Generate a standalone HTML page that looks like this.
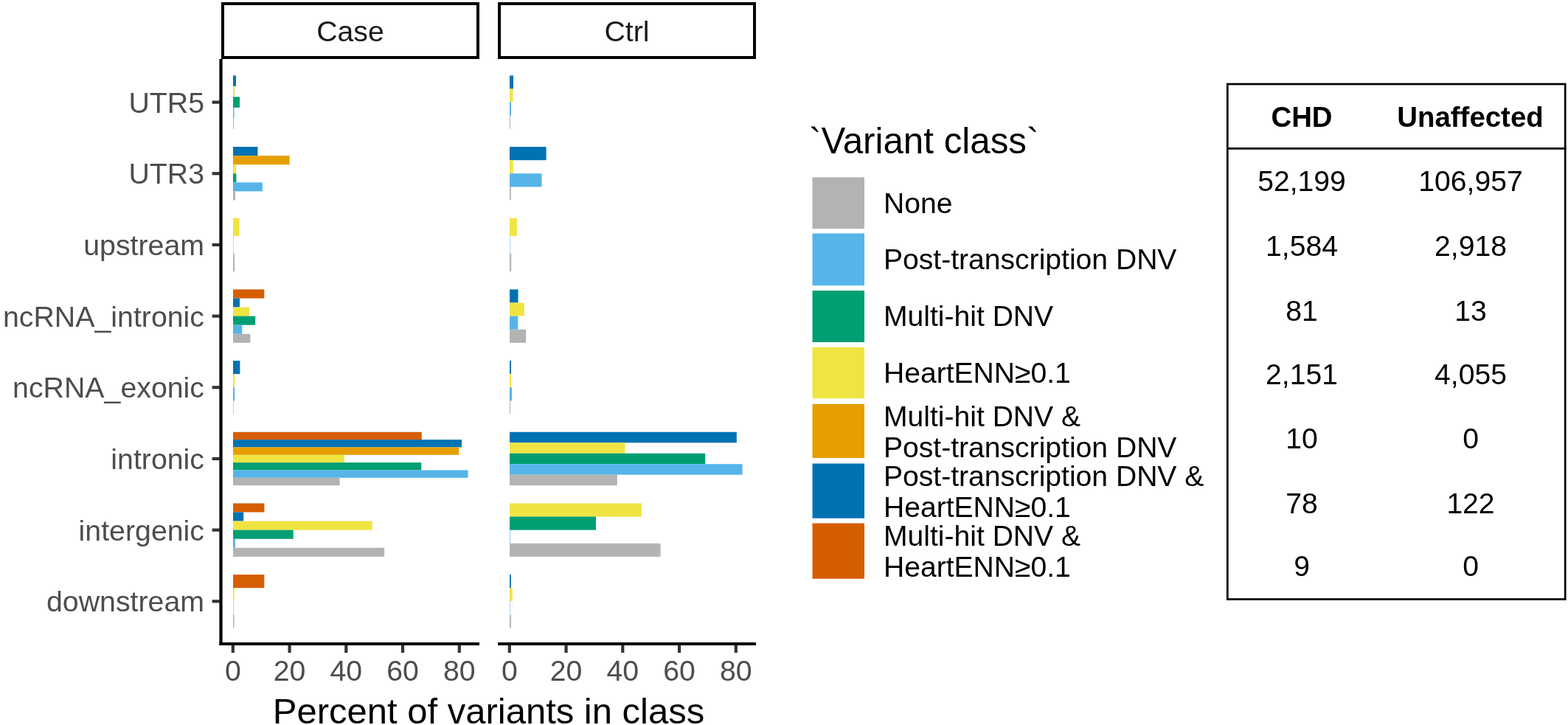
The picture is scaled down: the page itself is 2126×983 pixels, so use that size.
<!DOCTYPE html><html><head><meta charset="utf-8"><title>Variant class plot</title><style>html,body{margin:0;padding:0;background:#fff;}svg{display:block;}text{font-family:"Liberation Sans",Arial,sans-serif;}</style></head><body>
<svg width="2126" height="983" viewBox="0 0 2126 983">
<rect x="0" y="0" width="2126" height="983" fill="#fff"/>
<rect x="316.00" y="102.40" width="4.00" height="14.48" fill="#0072B2"/>
<rect x="316.00" y="116.88" width="2.00" height="14.48" fill="#F0E442"/>
<rect x="316.00" y="131.36" width="9.00" height="14.48" fill="#009E73"/>
<rect x="316.00" y="145.84" width="1.50" height="14.48" fill="#56B4E9"/>
<rect x="316.00" y="160.32" width="1.00" height="14.48" fill="#B3B3B3"/>
<rect x="316.00" y="199.07" width="33.40" height="12.07" fill="#0072B2"/>
<rect x="316.00" y="211.14" width="76.60" height="12.07" fill="#E69F00"/>
<rect x="316.00" y="223.20" width="3.90" height="12.07" fill="#F0E442"/>
<rect x="316.00" y="235.27" width="4.40" height="12.07" fill="#009E73"/>
<rect x="316.00" y="247.34" width="39.80" height="12.07" fill="#56B4E9"/>
<rect x="316.00" y="259.40" width="2.90" height="12.07" fill="#B3B3B3"/>
<rect x="316.00" y="295.74" width="8.50" height="24.13" fill="#F0E442"/>
<rect x="316.00" y="319.87" width="0.50" height="24.13" fill="#56B4E9"/>
<rect x="316.00" y="344.01" width="2.00" height="24.13" fill="#B3B3B3"/>
<rect x="316.00" y="392.41" width="42.30" height="12.07" fill="#D55E00"/>
<rect x="316.00" y="404.48" width="9.00" height="12.07" fill="#0072B2"/>
<rect x="316.00" y="416.54" width="22.00" height="12.07" fill="#F0E442"/>
<rect x="316.00" y="428.61" width="30.20" height="12.07" fill="#009E73"/>
<rect x="316.00" y="440.68" width="12.30" height="12.07" fill="#56B4E9"/>
<rect x="316.00" y="452.74" width="23.40" height="12.07" fill="#B3B3B3"/>
<rect x="316.00" y="489.08" width="9.40" height="18.10" fill="#0072B2"/>
<rect x="316.00" y="507.18" width="2.20" height="18.10" fill="#F0E442"/>
<rect x="316.00" y="525.28" width="2.20" height="18.10" fill="#56B4E9"/>
<rect x="316.00" y="543.38" width="0.70" height="18.10" fill="#B3B3B3"/>
<rect x="316.00" y="585.75" width="255.80" height="10.34" fill="#D55E00"/>
<rect x="316.00" y="596.09" width="310.00" height="10.34" fill="#0072B2"/>
<rect x="316.00" y="606.44" width="306.10" height="10.34" fill="#E69F00"/>
<rect x="316.00" y="616.78" width="150.90" height="10.34" fill="#F0E442"/>
<rect x="316.00" y="627.12" width="255.30" height="10.34" fill="#009E73"/>
<rect x="316.00" y="637.46" width="318.50" height="10.34" fill="#56B4E9"/>
<rect x="316.00" y="647.81" width="144.60" height="10.34" fill="#B3B3B3"/>
<rect x="316.00" y="682.42" width="42.40" height="12.07" fill="#D55E00"/>
<rect x="316.00" y="694.49" width="14.20" height="12.07" fill="#0072B2"/>
<rect x="316.00" y="706.55" width="188.80" height="12.07" fill="#F0E442"/>
<rect x="316.00" y="718.62" width="81.70" height="12.07" fill="#009E73"/>
<rect x="316.00" y="730.69" width="2.90" height="12.07" fill="#56B4E9"/>
<rect x="316.00" y="742.75" width="205.10" height="12.07" fill="#B3B3B3"/>
<rect x="316.00" y="779.09" width="42.30" height="18.10" fill="#D55E00"/>
<rect x="316.00" y="797.19" width="1.80" height="18.10" fill="#F0E442"/>
<rect x="316.00" y="815.29" width="0.50" height="18.10" fill="#56B4E9"/>
<rect x="316.00" y="833.39" width="1.50" height="18.10" fill="#B3B3B3"/>
<rect x="691.00" y="102.40" width="5.00" height="18.10" fill="#0072B2"/>
<rect x="691.00" y="120.50" width="4.50" height="18.10" fill="#F0E442"/>
<rect x="691.00" y="138.60" width="2.00" height="18.10" fill="#56B4E9"/>
<rect x="691.00" y="156.70" width="1.00" height="18.10" fill="#B3B3B3"/>
<rect x="691.00" y="199.07" width="49.60" height="18.10" fill="#0072B2"/>
<rect x="691.00" y="217.17" width="4.80" height="18.10" fill="#F0E442"/>
<rect x="691.00" y="235.27" width="43.50" height="18.10" fill="#56B4E9"/>
<rect x="691.00" y="253.37" width="1.80" height="18.10" fill="#B3B3B3"/>
<rect x="691.00" y="295.74" width="9.90" height="24.13" fill="#F0E442"/>
<rect x="691.00" y="319.87" width="0.50" height="24.13" fill="#56B4E9"/>
<rect x="691.00" y="344.01" width="2.20" height="24.13" fill="#B3B3B3"/>
<rect x="691.00" y="392.41" width="11.50" height="18.10" fill="#0072B2"/>
<rect x="691.00" y="410.51" width="19.90" height="18.10" fill="#F0E442"/>
<rect x="691.00" y="428.61" width="11.30" height="18.10" fill="#56B4E9"/>
<rect x="691.00" y="446.71" width="22.20" height="18.10" fill="#B3B3B3"/>
<rect x="691.00" y="489.08" width="2.00" height="18.10" fill="#0072B2"/>
<rect x="691.00" y="507.18" width="2.00" height="18.10" fill="#F0E442"/>
<rect x="691.00" y="525.28" width="3.00" height="18.10" fill="#56B4E9"/>
<rect x="691.00" y="543.38" width="1.00" height="18.10" fill="#B3B3B3"/>
<rect x="691.00" y="585.75" width="307.80" height="14.48" fill="#0072B2"/>
<rect x="691.00" y="600.23" width="156.40" height="14.48" fill="#F0E442"/>
<rect x="691.00" y="614.71" width="265.20" height="14.48" fill="#009E73"/>
<rect x="691.00" y="629.19" width="315.60" height="14.48" fill="#56B4E9"/>
<rect x="691.00" y="643.67" width="145.80" height="14.48" fill="#B3B3B3"/>
<rect x="691.00" y="682.42" width="178.80" height="18.10" fill="#F0E442"/>
<rect x="691.00" y="700.52" width="117.00" height="18.10" fill="#009E73"/>
<rect x="691.00" y="718.62" width="0.70" height="18.10" fill="#56B4E9"/>
<rect x="691.00" y="736.72" width="204.60" height="18.10" fill="#B3B3B3"/>
<rect x="691.00" y="779.09" width="1.90" height="18.10" fill="#0072B2"/>
<rect x="691.00" y="797.19" width="3.80" height="18.10" fill="#F0E442"/>
<rect x="691.00" y="815.29" width="0.50" height="18.10" fill="#56B4E9"/>
<rect x="691.00" y="833.39" width="1.90" height="18.10" fill="#B3B3B3"/>
<rect x="302" y="5" width="346" height="73" fill="#fff" stroke="#000" stroke-width="4"/>
<text x="475" y="55.6" font-size="39.2" text-anchor="middle" fill="#1A1A1A">Case</text>
<rect x="677" y="5" width="346" height="73" fill="#fff" stroke="#000" stroke-width="4"/>
<text x="850" y="55.6" font-size="39.2" text-anchor="middle" fill="#1A1A1A">Ctrl</text>
<line x1="299.5" y1="80" x2="299.5" y2="875" stroke="#000" stroke-width="4.2"/>
<line x1="297.4" y1="873" x2="650" y2="873" stroke="#000" stroke-width="4.2"/>
<line x1="675" y1="873" x2="1025" y2="873" stroke="#000" stroke-width="4.2"/>
<line x1="287.6" y1="138.60" x2="298" y2="138.60" stroke="#333" stroke-width="4.2"/>
<text x="277" y="152.80" font-size="39.3" text-anchor="end" fill="#4D4D4D">UTR5</text>
<line x1="287.6" y1="235.27" x2="298" y2="235.27" stroke="#333" stroke-width="4.2"/>
<text x="277" y="249.47" font-size="39.3" text-anchor="end" fill="#4D4D4D">UTR3</text>
<line x1="287.6" y1="331.94" x2="298" y2="331.94" stroke="#333" stroke-width="4.2"/>
<text x="277" y="346.14" font-size="39.3" text-anchor="end" fill="#4D4D4D">upstream</text>
<line x1="287.6" y1="428.61" x2="298" y2="428.61" stroke="#333" stroke-width="4.2"/>
<text x="277" y="442.81" font-size="39.3" text-anchor="end" fill="#4D4D4D">ncRNA_intronic</text>
<line x1="287.6" y1="525.28" x2="298" y2="525.28" stroke="#333" stroke-width="4.2"/>
<text x="277" y="539.48" font-size="39.3" text-anchor="end" fill="#4D4D4D">ncRNA_exonic</text>
<line x1="287.6" y1="621.95" x2="298" y2="621.95" stroke="#333" stroke-width="4.2"/>
<text x="277" y="636.15" font-size="39.3" text-anchor="end" fill="#4D4D4D">intronic</text>
<line x1="287.6" y1="718.62" x2="298" y2="718.62" stroke="#333" stroke-width="4.2"/>
<text x="277" y="732.82" font-size="39.3" text-anchor="end" fill="#4D4D4D">intergenic</text>
<line x1="287.6" y1="815.29" x2="298" y2="815.29" stroke="#333" stroke-width="4.2"/>
<text x="277" y="829.49" font-size="39.3" text-anchor="end" fill="#4D4D4D">downstream</text>
<line x1="315.80" y1="875" x2="315.80" y2="885" stroke="#333" stroke-width="4.2"/>
<text x="315.80" y="923" font-size="39.2" text-anchor="middle" fill="#4D4D4D">0</text>
<line x1="392.55" y1="875" x2="392.55" y2="885" stroke="#333" stroke-width="4.2"/>
<text x="392.55" y="923" font-size="39.2" text-anchor="middle" fill="#4D4D4D">20</text>
<line x1="469.30" y1="875" x2="469.30" y2="885" stroke="#333" stroke-width="4.2"/>
<text x="469.30" y="923" font-size="39.2" text-anchor="middle" fill="#4D4D4D">40</text>
<line x1="546.05" y1="875" x2="546.05" y2="885" stroke="#333" stroke-width="4.2"/>
<text x="546.05" y="923" font-size="39.2" text-anchor="middle" fill="#4D4D4D">60</text>
<line x1="622.80" y1="875" x2="622.80" y2="885" stroke="#333" stroke-width="4.2"/>
<text x="622.80" y="923" font-size="39.2" text-anchor="middle" fill="#4D4D4D">80</text>
<line x1="690.80" y1="875" x2="690.80" y2="885" stroke="#333" stroke-width="4.2"/>
<text x="690.80" y="923" font-size="39.2" text-anchor="middle" fill="#4D4D4D">0</text>
<line x1="767.55" y1="875" x2="767.55" y2="885" stroke="#333" stroke-width="4.2"/>
<text x="767.55" y="923" font-size="39.2" text-anchor="middle" fill="#4D4D4D">20</text>
<line x1="844.30" y1="875" x2="844.30" y2="885" stroke="#333" stroke-width="4.2"/>
<text x="844.30" y="923" font-size="39.2" text-anchor="middle" fill="#4D4D4D">40</text>
<line x1="921.05" y1="875" x2="921.05" y2="885" stroke="#333" stroke-width="4.2"/>
<text x="921.05" y="923" font-size="39.2" text-anchor="middle" fill="#4D4D4D">60</text>
<line x1="997.80" y1="875" x2="997.80" y2="885" stroke="#333" stroke-width="4.2"/>
<text x="997.80" y="923" font-size="39.2" text-anchor="middle" fill="#4D4D4D">80</text>
<text x="662.5" y="981" font-size="49" text-anchor="middle" fill="#000">Percent of variants in class</text>
<text x="1097" y="207.5" font-size="49.3" fill="#000">`Variant class`</text>
<rect x="1101.5" y="240.3" width="70.5" height="69.9" fill="#B3B3B3"/>
<rect x="1101.5" y="316.5" width="70.5" height="70.6" fill="#56B4E9"/>
<rect x="1101.5" y="394" width="70.5" height="69.9" fill="#009E73"/>
<rect x="1101.5" y="471" width="70.5" height="69.2" fill="#F0E442"/>
<rect x="1101.5" y="547.8" width="70.5" height="73.2" fill="#E69F00"/>
<rect x="1101.5" y="628.5" width="70.5" height="74.2" fill="#0072B2"/>
<rect x="1101.5" y="709.5" width="70.5" height="75.2" fill="#D55E00"/>
<text x="1198" y="289.3" font-size="39.1" fill="#000">None</text>
<text x="1198" y="365.2" font-size="39.1" fill="#000">Post-transcription DNV</text>
<text x="1198" y="442.3" font-size="39.1" fill="#000">Multi-hit DNV</text>
<text x="1198" y="519.3" font-size="39.1" fill="#000">HeartENN≥0.1</text>
<text x="1198" y="577.8" font-size="39.1" fill="#000">Multi-hit DNV &amp;</text>
<text x="1198" y="620.3" font-size="39.1" fill="#000">Post-transcription DNV</text>
<text x="1198" y="659" font-size="39.1" fill="#000">Post-transcription DNV &amp;</text>
<text x="1198" y="701.1" font-size="39.1" fill="#000">HeartENN≥0.1</text>
<text x="1198" y="740" font-size="39.1" fill="#000">Multi-hit DNV &amp;</text>
<text x="1198" y="781.7" font-size="39.1" fill="#000">HeartENN≥0.1</text>
<rect x="1664.3" y="114" width="457.9" height="698.5" fill="none" stroke="#000" stroke-width="2.7"/>
<line x1="1663" y1="201.3" x2="2123.5" y2="201.3" stroke="#000" stroke-width="2.7"/>
<text x="1765" y="171.5" font-size="38.4" font-weight="bold" text-anchor="middle" fill="#000">CHD</text>
<text x="1993.5" y="171.5" font-size="38.4" font-weight="bold" text-anchor="middle" fill="#000">Unaffected</text>
<text x="1765" y="259.2" font-size="39.1" text-anchor="middle" fill="#000">52,199</text>
<text x="1994" y="259.2" font-size="39.1" text-anchor="middle" fill="#000">106,957</text>
<text x="1765" y="346.5" font-size="39.1" text-anchor="middle" fill="#000">1,584</text>
<text x="1994" y="346.5" font-size="39.1" text-anchor="middle" fill="#000">2,918</text>
<text x="1765" y="434.9" font-size="39.1" text-anchor="middle" fill="#000">81</text>
<text x="1994" y="434.9" font-size="39.1" text-anchor="middle" fill="#000">13</text>
<text x="1765" y="521" font-size="39.1" text-anchor="middle" fill="#000">2,151</text>
<text x="1994" y="521" font-size="39.1" text-anchor="middle" fill="#000">4,055</text>
<text x="1765" y="607.5" font-size="39.1" text-anchor="middle" fill="#000">10</text>
<text x="1994" y="607.5" font-size="39.1" text-anchor="middle" fill="#000">0</text>
<text x="1765" y="695.8" font-size="39.1" text-anchor="middle" fill="#000">78</text>
<text x="1994" y="695.8" font-size="39.1" text-anchor="middle" fill="#000">122</text>
<text x="1765" y="781.4" font-size="39.1" text-anchor="middle" fill="#000">9</text>
<text x="1994" y="781.4" font-size="39.1" text-anchor="middle" fill="#000">0</text>
</svg></body></html>
